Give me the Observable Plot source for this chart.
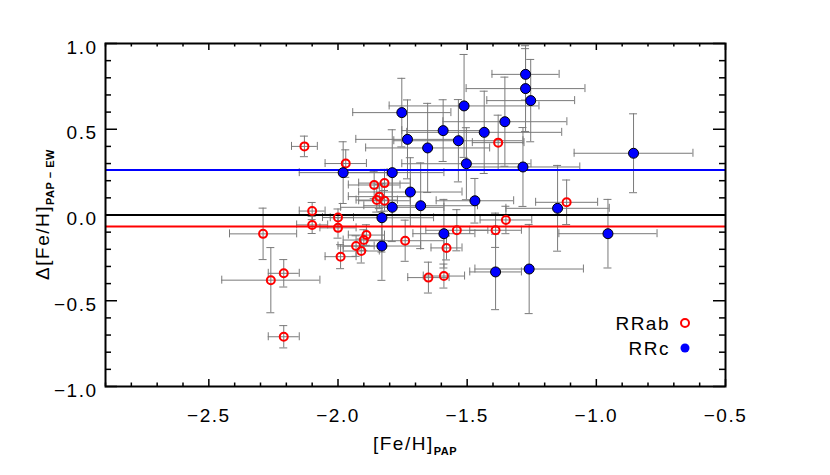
<!DOCTYPE html>
<html><head><meta charset="utf-8">
<script src="https://cdn.jsdelivr.net/npm/d3@7"></script>
<script src="https://cdn.jsdelivr.net/npm/@observablehq/plot@0.6"></script>
<style>
body{margin:0;background:#fff;}
#wrap{width:830px;height:475px;}
</style></head><body><div id="wrap"></div>
<script>
// ---- data ----
const rrabX  = [-2.13,-1.97,-2.29,-2.26,-2.21,-2.21,-2.10,-2.10,-2.00,-2.00,-1.99,-1.93,-1.91,-1.90,-1.89,-1.86,-1.82,-1.85,-1.84,-1.82,-1.74,-1.54,-1.58,-1.65,-1.59,-1.39,-1.35,-1.38,-1.115];
const rrabY  = [0.40,0.30,-0.11,-0.38,-0.34,-0.71,0.023,-0.058,-0.015,-0.075,-0.243,-0.181,-0.21,-0.146,-0.117,0.175,0.186,0.087,0.107,0.083,-0.15,-0.089,-0.192,-0.365,-0.356,-0.089,-0.029,0.422,0.074];
const rrabXe = [0.05,0.08,0.13,0.19,0.06,0.06,0.05,0.06,0.06,0.07,0.06,0.07,0.07,0.08,0.07,0.10,0.10,0.08,0.12,0.10,0.15,0.12,0.06,0.08,0.08,0.10,0.10,0.10,0.12];
const rrabYe = [0.06,0.08,0.15,0.19,0.08,0.065,0.05,0.05,0.05,0.06,0.07,0.06,0.07,0.06,0.06,0.08,0.08,0.07,0.07,0.06,0.12,0.12,0.07,0.09,0.07,0.10,0.08,0.16,0.13];

const rrcX  = [-1.98,-1.79,-1.83,-1.83,-1.79,-1.72,-1.68,-1.59,-1.47,-1.39,-1.26,-1.15,-0.955,-1.274,-1.274,-1.254,-1.512,-1.753,-1.731,-1.593,-1.534,-1.653,-1.434,-1.354,-1.503,-1.284,-0.856];
const rrcY  = [0.247,0.247,-0.016,-0.181,0.045,0.134,0.054,-0.109,0.083,-0.332,-0.315,0.039,-0.109,0.82,0.737,0.667,0.636,0.597,0.441,0.492,0.433,0.391,0.482,0.544,0.299,0.28,0.36];
const rrcXe = [0.17,0.20,0.20,0.15,0.20,0.20,0.22,0.12,0.15,0.10,0.21,0.20,0.19,0.13,0.23,0.17,0.29,0.19,0.20,0.16,0.25,0.24,0.30,0.24,0.25,0.22,0.23];
const rrcYe = [0.18,0.25,0.20,0.20,0.20,0.20,0.25,0.20,0.13,0.22,0.26,0.25,0.20,0.15,0.25,0.24,0.30,0.20,0.23,0.18,0.24,0.26,0.24,0.26,0.21,0.23,0.23];

const meanRRc = 0.263;
const meanRRab = -0.067;
const zeroLine = 0;

const seriesNames = ["RRab", "RRc"];
const xTicks = [-2.5, -2.0, -1.5, -1.0, -0.5];
const yTicks = [-1.0, -0.5, 0.0, 0.5, 1.0];
const xMinor = [-2.9,-2.8,-2.7,-2.6,-2.4,-2.3,-2.2,-2.1,-1.9,-1.8,-1.7,-1.6,-1.4,-1.3,-1.2,-1.1,-0.9,-0.8,-0.7,-0.6];
const yMinor = [-0.9,-0.8,-0.7,-0.6,-0.4,-0.3,-0.2,-0.1,0.1,0.2,0.3,0.4,0.6,0.7,0.8,0.9];
const xTitle = ["[Fe/H]", "PAP"];
const yTitle = ["\u0394[Fe/H]", "PAP \u2212 EW"];

// ---- build ----
const rrab = rrabX.map((x, i) => ({x, y: rrabY[i], xe: rrabXe[i], ye: rrabYe[i]}));
const rrc = rrcX.map((x, i) => ({x, y: rrcY[i], xe: rrcXe[i], ye: rrcYe[i]}));
const all = [...rrab, ...rrc];

const font = '"Liberation Sans", Arial, Helvetica, sans-serif';
const W = 830, H = 475, mL = 105, mR = 105, mT = 43, mB = 89;
const fw = W - mL - mR, fh = H - mT - mB;
const barColor = "#7a7a7a";
const RED = "#ff0000", BLUE = "#0000ff";
const cap = 4;

const plot = Plot.plot({
  width: W, height: H,
  marginLeft: mL, marginRight: mR, marginTop: mT, marginBottom: mB,
  x: {domain: [-2.9, -0.5]},
  y: {domain: [-1, 1]},
  style: {fontFamily: font, fontSize: "19px", background: "white", color: "black", letterSpacing: "1.5px"},
  marks: [
    // error bars
    Plot.ruleY(all, {y: "y", x1: d => d.x - d.xe, x2: d => d.x + d.xe, stroke: barColor, strokeWidth: 1}),
    Plot.ruleX(all, {x: "x", y1: d => d.y - d.ye, y2: d => d.y + d.ye, stroke: barColor, strokeWidth: 1}),
    Plot.ruleX(all, {x: d => d.x - d.xe, y1: "y", y2: "y", insetTop: -cap, insetBottom: -cap, stroke: barColor}),
    Plot.ruleX(all, {x: d => d.x + d.xe, y1: "y", y2: "y", insetTop: -cap, insetBottom: -cap, stroke: barColor}),
    Plot.ruleY(all, {y: d => d.y - d.ye, x1: "x", x2: "x", insetLeft: -cap, insetRight: -cap, stroke: barColor}),
    Plot.ruleY(all, {y: d => d.y + d.ye, x1: "x", x2: "x", insetLeft: -cap, insetRight: -cap, stroke: barColor}),
    // reference lines
    Plot.ruleY([zeroLine], {stroke: "black", strokeWidth: 2}),
    Plot.ruleY([meanRRc], {stroke: BLUE, strokeWidth: 2}),
    Plot.ruleY([meanRRab], {stroke: RED, strokeWidth: 2}),
    // points
    Plot.dot(rrab, {x: "x", y: "y", r: 4, stroke: RED, strokeWidth: 2, fill: "none"}),
    Plot.dot(rrc, {x: "x", y: "y", r: 5, fill: BLUE, stroke: "black", strokeWidth: 1}),
    // inward ticks
    Plot.tickX(xTicks, {x: d => d, insetTop: fh - 7, stroke: "black", strokeWidth: 1.5}),
    Plot.tickX(xTicks, {x: d => d, insetBottom: fh - 7, stroke: "black", strokeWidth: 1.5}),
    Plot.tickX(xMinor, {x: d => d, insetTop: fh - 3.5, stroke: "black", strokeWidth: 1.5}),
    Plot.tickX(xMinor, {x: d => d, insetBottom: fh - 3.5, stroke: "black", strokeWidth: 1.5}),
    Plot.tickY(yTicks, {y: d => d, insetRight: fw - 12, stroke: "black", strokeWidth: 1.5}),
    Plot.tickY(yTicks, {y: d => d, insetLeft: fw - 12, stroke: "black", strokeWidth: 1.5}),
    Plot.tickY(yMinor, {y: d => d, insetRight: fw - 6, stroke: "black", strokeWidth: 1.5}),
    Plot.tickY(yMinor, {y: d => d, insetLeft: fw - 6, stroke: "black", strokeWidth: 1.5}),
    // axes labels
    Plot.axisX(xTicks, {tickSize: 0, tickPadding: 22, tickFormat: d3.format(".1f"), fontSize: 19, label: null}),
    Plot.axisY(yTicks, {tickSize: 0, tickPadding: 8, tickFormat: d3.format(".1f"), fontSize: 19, label: null, dy: 4}),
    Plot.frame({stroke: "black", strokeWidth: 2})
  ]
});

const svg = d3.select(plot);
// x title
const xt = svg.append("text").attr("transform", `translate(${mL + fw / 2},450)`)
  .attr("text-anchor", "middle").style("font-size", "19px").attr("fill", "black");
xt.append("tspan").text(xTitle[0]);
xt.append("tspan").attr("dy", 5).style("font-size", "11px").style("font-weight", "bold").style("letter-spacing", "0.5px").text(xTitle[1]);
// y title
const yt = svg.append("text").attr("transform", `translate(49,${mT + fh / 2}) rotate(-90)`)
  .attr("text-anchor", "middle").style("font-size", "19px").attr("fill", "black");
yt.append("tspan").text(yTitle[0]);
yt.append("tspan").attr("dy", 5).style("font-size", "11px").style("font-weight", "bold").style("letter-spacing", "0.5px").text(yTitle[1]);
// legend
const lg = svg.append("g");
[[seriesNames[0], 323], [seriesNames[1], 348]].forEach(([name, ly], i) => {
  lg.append("text").attr("x", 670).attr("y", ly).attr("dy", "0.35em").attr("text-anchor", "end")
    .style("font-size", "19px").attr("fill", "black").text(name);
  if (i === 0) lg.append("circle").attr("cx", 685).attr("cy", ly).attr("r", 4).attr("fill", "none").attr("stroke", RED).attr("stroke-width", 2);
  else lg.append("circle").attr("cx", 685).attr("cy", ly).attr("r", 4.5).attr("fill", BLUE);
});

document.getElementById("wrap").appendChild(plot);
</script>
</body></html>
